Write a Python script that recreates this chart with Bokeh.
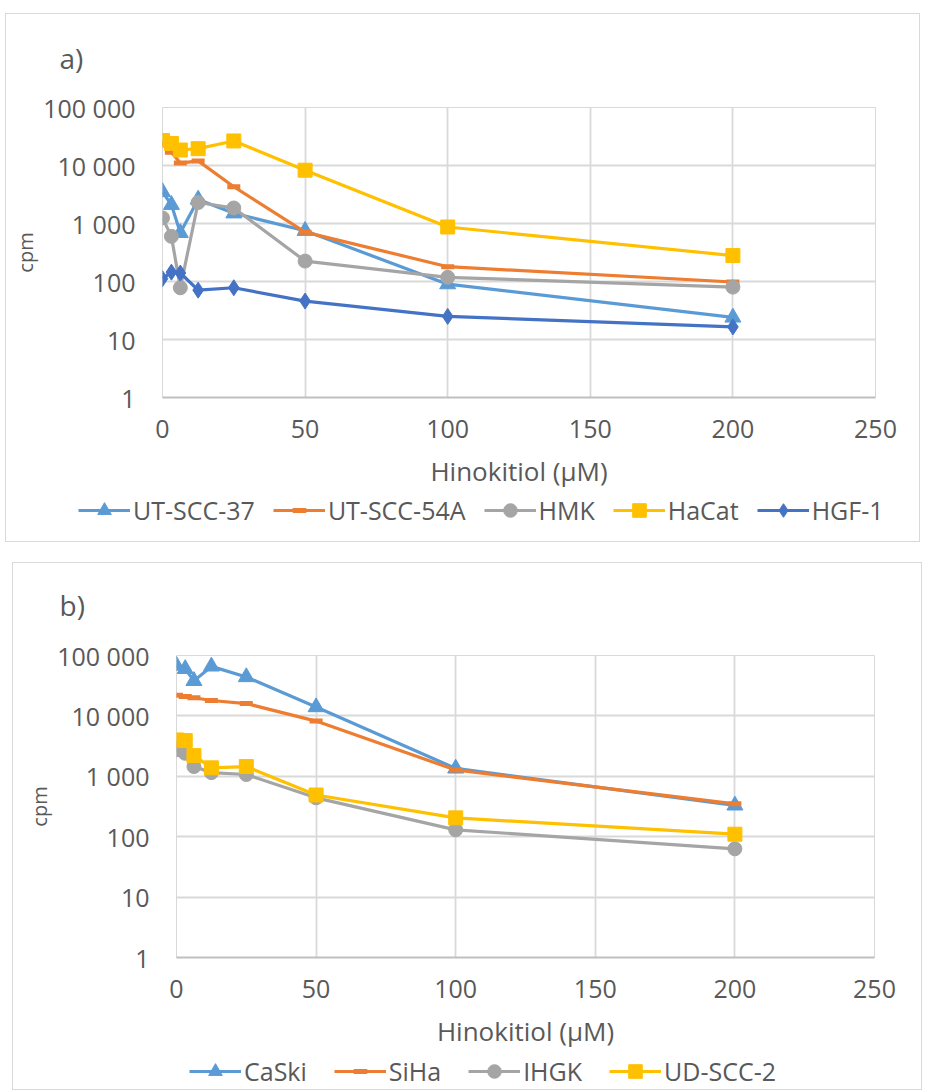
from bokeh.plotting import figure
from bokeh.models import (Range1d, FixedTicker, Legend, LegendItem, Label, Spacer)
from bokeh.layouts import column, row
from bokeh.embed import file_html
from bokeh.resources import INLINE

# ---------------- data ----------------
x_conc = [0, 3.125, 6.25, 12.5, 25, 50, 100, 200]

# panel a
ut_scc_37 = [3500, 2100, 690, 2600, 1500, 750, 90, 24]
ut_scc_54a = [24000, 17000, 11000, 12000, 4300, 710, 180, 98]
hmk = [1250, 600, 78, 2300, 1850, 225, 118, 80]
hacat = [27000, 24000, 18500, 19500, 26500, 8300, 870, 280]
hgf_1 = [112, 145, 140, 71, 78, 46, 25, 16.5]

# panel b
caski = [68000, 60000, 38000, 66000, 44000, 14000, 1350, 330]
siha = [22000, 21000, 20000, 18000, 16000, 8200, 1270, 350]
ihgk = [2750, 2400, 1450, 1150, 1070, 440, 130, 63]
ud_scc_2 = [4000, 3900, 2200, 1380, 1450, 490, 205, 110]

x_ticks = [0, 50, 100, 150, 200, 250]
y_ticks = [1, 10, 100, 1000, 10000, 100000]
y_tick_labels = ["1", "10", "100", "1 000", "10 000", "100 000"]
x_label = "Hinokitiol (µM)"
y_label = "cpm"

BLUE = "#5B9BD5"
ORANGE = "#ED7D31"
GRAY = "#A5A5A5"
YELLOW = "#FFC000"
DARKBLUE = "#4472C4"
TXT = "#595959"
GRID = "#d9d9d9"
FONT = "Open Sans"

series_a = [
    ("UT-SCC-37", ut_scc_37, BLUE, "triangle", 16),
    ("UT-SCC-54A", ut_scc_54a, ORANGE, "dash", 13),
    ("HMK", hmk, GRAY, "circle", 14),
    ("HaCat", hacat, YELLOW, "square", 14),
    ("HGF-1", hgf_1, DARKBLUE, "diamond", 16),
]
series_b = [
    ("CaSki", caski, BLUE, "triangle", 16),
    ("SiHa", siha, ORANGE, "dash", 13),
    ("IHGK", ihgk, GRAY, "circle", 14),
    ("UD-SCC-2", ud_scc_2, YELLOW, "square", 14),
]


def make_fig(width, height, mb_left, mb_right, mb_top, mb_bottom):
    p = figure(width=width, height=height, y_axis_type="log",
               x_range=Range1d(0, 250), y_range=Range1d(1, 100000),
               output_backend="svg", toolbar_location=None, title_location=None,
               min_border_left=mb_left, min_border_right=mb_right,
               min_border_top=mb_top, min_border_bottom=mb_bottom,
               background_fill_color="white", border_fill_color="white",
               outline_line_color=GRID)
    p.xaxis.ticker = FixedTicker(ticks=x_ticks)
    p.yaxis.ticker = FixedTicker(ticks=y_ticks)
    p.yaxis.major_label_overrides = {t: l for t, l in zip(y_ticks, y_tick_labels)}
    p.xgrid.ticker = FixedTicker(ticks=x_ticks)
    p.ygrid.ticker = FixedTicker(ticks=y_ticks)
    for g in (p.xgrid, p.ygrid):
        g.grid_line_color = GRID
        g.grid_line_width = 1.8
    for ax in (p.xaxis, p.yaxis):
        ax.major_tick_line_color = None
        ax.minor_tick_line_color = None
        ax.major_tick_out = 0
        ax.major_tick_in = 0
        ax.minor_tick_out = 0
        ax.minor_tick_in = 0
        ax.major_label_text_font = FONT
        ax.major_label_text_font_size = "25px"
        ax.major_label_text_color = TXT
        ax.axis_label_text_font = FONT
        ax.axis_label_text_color = TXT
        ax.axis_label_text_font_style = "normal"
    p.xaxis.axis_line_color = "#bfbfbf"
    p.xaxis.axis_line_width = 1.8
    p.yaxis.axis_line_color = None
    p.xaxis.axis_label = x_label
    p.xaxis.axis_label_text_font_size = "26px"
    p.xaxis.major_label_standoff = 22
    p.xaxis.axis_label_standoff = 12
    p.yaxis.axis_label = y_label
    p.yaxis.axis_label_text_font_size = "20px"
    p.yaxis.major_label_standoff = 27
    p.yaxis.axis_label_standoff = 1
    return p


def style_kwargs(color, marker, size):
    if marker == "dash":
        return dict(marker="dash", size=size, line_color=color, line_width=5)
    return dict(marker=marker, size=size, fill_color=color, line_color=color)


def draw_series(p, series):
    items = []
    for name, y, color, marker, size in series:
        r1 = p.line(x_conc, y, line_color=color, line_width=3.2)
        r2 = p.scatter(x_conc, y, **style_kwargs(color, marker, size))
        items.append(LegendItem(label=name, renderers=[r1, r2]))
    return items


def strip_fig(width, height, x_range, y_range):
    q = figure(width=width, height=height, x_range=x_range, y_range=y_range,
               output_backend="svg", toolbar_location=None, min_border=0,
               title_location=None,
               x_axis_location=None, y_axis_location=None, outline_line_color=None,
               background_fill_color="white", border_fill_color="white")
    q.xgrid.visible = False
    q.ygrid.visible = False
    return q


def make_tag_fig(width, height, tag, tx, ty):
    # header strip whose data units equal pixels, holding the panel letter
    q = strip_fig(width, height, Range1d(0, width), Range1d(0, height))
    q.add_layout(Label(x=tx, y=ty, text=tag, text_font=FONT, text_font_size="28px",
                       text_color=TXT, text_baseline="middle", text_align="left"))
    return q


def make_legend_fig(width, height, series, loc, spacing):
    # legend strip: the series are drawn out of view, only their legend shows
    q = strip_fig(width, height, Range1d(1000, 1001), Range1d(1000, 1001))
    items = draw_series(q, series)
    leg = Legend(items=items, location=loc, margin=0, orientation="horizontal",
                 border_line_color=None, background_fill_alpha=0,
                 label_text_font=FONT, label_text_font_size="25px",
                 label_text_color=TXT, glyph_width=52, glyph_height=34,
                 label_standoff=3, spacing=spacing, padding=0)
    q.add_layout(leg, "center")
    return q


# ---------------- panel a ----------------
ta = make_tag_fig(913, 70, "a)", 53, 27)
pa = make_fig(913, 407, 156, 44, 23, 91)
draw_series(pa, series_a)
la = make_legend_fig(913, 50, series_a, (72, 14), 18)
panel_a = column(row(ta), pa, row(la), styles={"border": "1px solid #d9d9d9"})

# ---------------- panel b ----------------
tb = make_tag_fig(908, 71, "b)", 46, 30)
pb = make_fig(908, 417, 163, 47, 21, 92)
draw_series(pb, series_b)
lb = make_legend_fig(908, 38, series_b, (176, 1), 27)
panel_b = column(row(tb), pb, row(lb), styles={"border": "1px solid #d9d9d9"})

layout = column(Spacer(height=13), row(Spacer(width=5), panel_a), Spacer(height=20),
                row(Spacer(width=12), panel_b))
open("out.html", "w").write(file_html(layout, INLINE))
